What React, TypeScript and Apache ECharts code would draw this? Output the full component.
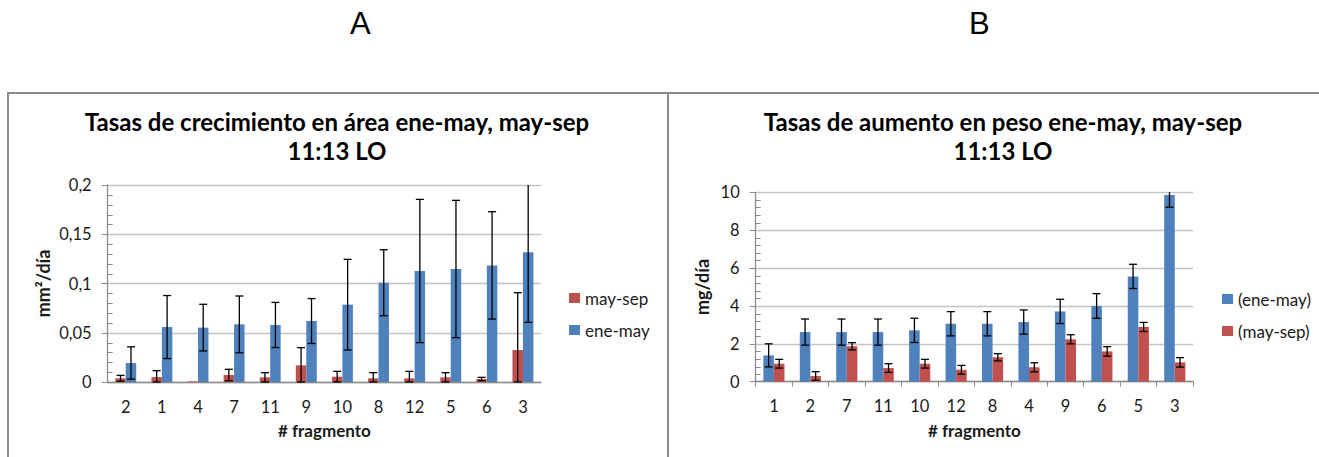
import React, { useEffect, useRef } from "react";
import * as echarts from "echarts";

// ---------- DATA ----------
const catsA = ["2", "1", "4", "7", "11", "9", "10", "8", "12", "5", "6", "3"];
const maySepA = [0.0037, 0.005, 0.0007, 0.0071, 0.0047, 0.0169, 0.0054, 0.0037, 0.0037, 0.0047, 0.003, 0.0325];
const maySepErrA = [0.003, 0.0065, 0, 0.0058, 0.0048, 0.018, 0.0054, 0.0058, 0.0071, 0.0048, 0.0017, 0.0582];
const eneMayA = [0.0193, 0.0558, 0.0552, 0.0585, 0.0579, 0.0619, 0.0785, 0.1008, 0.1127, 0.1147, 0.1184, 0.1316];
const eneMayErrA = [0.0164, 0.032, 0.0237, 0.0288, 0.0229, 0.0228, 0.046, 0.0335, 0.0727, 0.0697, 0.0545, 0.071];

const catsB = ["1", "2", "7", "11", "10", "12", "8", "4", "9", "6", "5", "3"];
const eneMayB = [1.39, 2.62, 2.62, 2.62, 2.71, 3.06, 3.06, 3.15, 3.71, 4.0, 5.56, 9.86];
const eneMayErrB = [0.61, 0.69, 0.69, 0.69, 0.64, 0.64, 0.64, 0.64, 0.64, 0.65, 0.64, 0.65];
const maySepB = [0.95, 0.3, 1.87, 0.72, 0.95, 0.63, 1.29, 0.76, 2.24, 1.6, 2.89, 1.02];
const maySepErrB = [0.23, 0.23, 0.19, 0.23, 0.23, 0.23, 0.19, 0.24, 0.24, 0.25, 0.24, 0.25];

// axis settings
const maxA = 0.2;
const intervalA = 0.05;
const maxB = 10;
const intervalB = 2;
const minorSplits = 5;

const titleA = "Tasas de crecimiento en área ene-may, may-sep\n11:13 LO";
const titleB = "Tasas de aumento en peso ene-may, may-sep\n11:13 LO";

// ---------- STYLE ----------
const BLUE = "#4f81bd";
const RED = "#c0504d";
const AXIS = "#8c8c8c";
const GRIDC = "#c3c3c3";
const TXT = "#1a1a1a";
const FONT = "Lato, 'Open Sans', sans-serif";
const GAP = 0.42;

const comma = (v: number) => String(v).replace(".", ",");

// minor tick values between major ticks (axis decoration)
function minorValues(max: number, interval: number) {
  const out: number[] = [];
  const step = interval / minorSplits;
  const n = Math.round(max / step);
  for (let k = 1; k < n; k++) if (k % minorSplits !== 0) out.push(k * step);
  return out;
}

function minorTickSeries(idx: number, max: number, interval: number) {
  return {
    type: "custom",
    name: "minor" + idx,
    xAxisIndex: idx,
    yAxisIndex: idx,
    z: 6,
    silent: true,
    clip: false,
    data: minorValues(max, interval).map((v) => [0, v]),
    renderItem: (params: any, api: any) => {
      const cs = params.coordSys;
      const y = Math.round(api.coord([0, api.value(1)])[1]) + 0.5;
      const x0 = cs.x;
      return {
        type: "line",
        shape: { x1: x0, y1: y, x2: x0 + 5, y2: y },
        style: { stroke: AXIS, lineWidth: 1 },
      };
    },
  };
}

function errorSeries(name: string, idx: number, vals: number[], errs: number[], side: number) {
  return {
    type: "custom",
    name,
    xAxisIndex: idx,
    yAxisIndex: idx,
    z: 5,
    silent: true,
    data: vals.map((v, i) => [i, v, errs[i]]),
    renderItem: (params: any, api: any) => {
      const i = api.value(0);
      const v = api.value(1);
      const e = api.value(2);
      if (!e) return null;
      const cs = params.coordSys;
      const catW = api.size([1, 0])[0];
      const barW = (catW * (1 - GAP)) / 2;
      const c = api.coord([i, v]);
      const x = c[0] + (side * barW) / 2;
      let yTop = api.coord([i, v + e])[1];
      const yBot = api.coord([i, Math.max(v - e, 0)])[1];
      const clipped = yTop < cs.y;
      if (clipped) yTop = cs.y;
      const hw = 4;
      const style = { stroke: "#000", lineWidth: 1.3 };
      const children: any[] = [
        { type: "line", shape: { x1: x, y1: yTop, x2: x, y2: yBot }, style },
        { type: "line", shape: { x1: x - hw, y1: yBot, x2: x + hw, y2: yBot }, style },
      ];
      if (!clipped) children.push({ type: "line", shape: { x1: x - hw, y1: yTop, x2: x + hw, y2: yTop }, style });
      return { type: "group", children };
    },
  };
}

function yAxis(gridIndex: number, max: number, interval: number, nameText: string, nameGap: number, fmt: (v: number) => string) {
  return {
    type: "value",
    gridIndex,
    position: "left",
    min: 0,
    max,
    interval,
    name: nameText,
    nameLocation: "middle",
    nameGap,
    nameTextStyle: { fontFamily: FONT, fontWeight: "bold", fontSize: 18, color: TXT },
    axisLine: { show: true, lineStyle: { color: AXIS, width: 1.3 } },
    axisTick: { show: true, length: 6, inside: false, lineStyle: { color: AXIS } },
    axisLabel: { fontFamily: FONT, fontSize: 16.5, color: TXT, margin: 16, formatter: fmt },
    splitLine: { show: true, lineStyle: { color: GRIDC, width: 1.3 } },
  };
}

const legendText = { fontFamily: FONT, fontSize: 17, color: TXT, lineHeight: 18 };

export default function App() {
  const ref = useRef<HTMLDivElement>(null);
  useEffect(() => {
    if (!ref.current) return;
    const chart = echarts.init(ref.current, null, { renderer: "svg" });
    const titleStyle = { fontFamily: FONT, fontWeight: "bold", fontSize: 24, lineHeight: 29, color: "#000" };
    const barCommon = { barGap: "0%", barCategoryGap: GAP * 100 + "%" };
    const option: any = {
      animation: false,
      backgroundColor: "#fff",
      title: [
        { text: titleA, left: 332, top: 101.5, textAlign: "center", textStyle: titleStyle },
        { text: titleB, left: 998, top: 101.5, textAlign: "center", textStyle: titleStyle },
      ],
      legend: [
        {
          data: ["may-sep", "ene-may"],
          orient: "vertical",
          left: 569,
          top: 289,
          padding: 0,
          icon: "rect",
          itemWidth: 11,
          itemHeight: 10,
          itemGap: 14,
          textStyle: legendText,
        },
        {
          data: ["(ene-may)", "(may-sep)"],
          orient: "vertical",
          left: 1222,
          top: 290,
          padding: 0,
          icon: "rect",
          itemWidth: 11,
          itemHeight: 10,
          itemGap: 14,
          textStyle: legendText,
        },
      ],
      grid: [
        { left: 107.7, top: 185, width: 433.3, height: 197 },
        { left: 755.7, top: 192.3, width: 437.3, height: 189.4 },
      ],
      xAxis: [
        {
          type: "category",
          gridIndex: 0,
          data: catsA,
          name: "# fragmento",
          nameLocation: "middle",
          nameGap: 40,
          nameTextStyle: { fontFamily: FONT, fontWeight: "bold", fontSize: 17, color: TXT },
          axisLine: { show: true, lineStyle: { color: AXIS, width: 1.3 } },
          axisTick: { show: false },
          axisLabel: { fontFamily: FONT, fontSize: 16.5, color: TXT, margin: 16 },
        },
        {
          type: "category",
          gridIndex: 1,
          data: catsB,
          name: "# fragmento",
          nameLocation: "middle",
          nameGap: 40,
          nameTextStyle: { fontFamily: FONT, fontWeight: "bold", fontSize: 17, color: TXT },
          axisLine: { show: true, lineStyle: { color: AXIS, width: 1.3 } },
          axisTick: { show: true, length: 5, lineStyle: { color: AXIS } },
          axisLabel: { fontFamily: FONT, fontSize: 16.5, color: TXT, margin: 16 },
        },
      ],
      yAxis: [
        yAxis(0, maxA, intervalA, "mm²/día", 56, comma),
        yAxis(1, maxB, intervalB, "mg/día", 45, (v: number) => String(v)),
      ],
      series: [
        { type: "bar", name: "may-sep", xAxisIndex: 0, yAxisIndex: 0, data: maySepA, itemStyle: { color: RED }, ...barCommon },
        { type: "bar", name: "ene-may", xAxisIndex: 0, yAxisIndex: 0, data: eneMayA, itemStyle: { color: BLUE }, ...barCommon },
        { type: "bar", name: "(ene-may)", xAxisIndex: 1, yAxisIndex: 1, data: eneMayB, itemStyle: { color: BLUE }, ...barCommon },
        { type: "bar", name: "(may-sep)", xAxisIndex: 1, yAxisIndex: 1, data: maySepB, itemStyle: { color: RED }, ...barCommon },
        errorSeries("errA1", 0, maySepA, maySepErrA, -1),
        errorSeries("errA2", 0, eneMayA, eneMayErrA, 1),
        errorSeries("errB1", 1, eneMayB, eneMayErrB, -1),
        errorSeries("errB2", 1, maySepB, maySepErrB, 1),
        minorTickSeries(0, maxA, intervalA),
        minorTickSeries(1, maxB, intervalB),
      ],
      graphic: [
        { type: "text", left: 350, top: 8, style: { text: "A", font: "31px 'Liberation Sans', Arial, sans-serif", fill: "#000" } },
        { type: "text", left: 969, top: 8, style: { text: "B", font: "31px 'Liberation Sans', Arial, sans-serif", fill: "#000" } },
        { type: "polyline", shape: { points: [[8, 457], [8, 93], [1319, 93]] }, style: { stroke: AXIS, lineWidth: 2, fill: null } },
        { type: "line", shape: { x1: 668, y1: 93, x2: 668, y2: 457 }, style: { stroke: AXIS, lineWidth: 2 } },
      ],
    };
    chart.setOption(option);
    return () => chart.dispose();
  }, []);
  return <div ref={ref} style={{ position: "absolute", left: 0, top: 0, width: 1319, height: 457 }} />;
}
